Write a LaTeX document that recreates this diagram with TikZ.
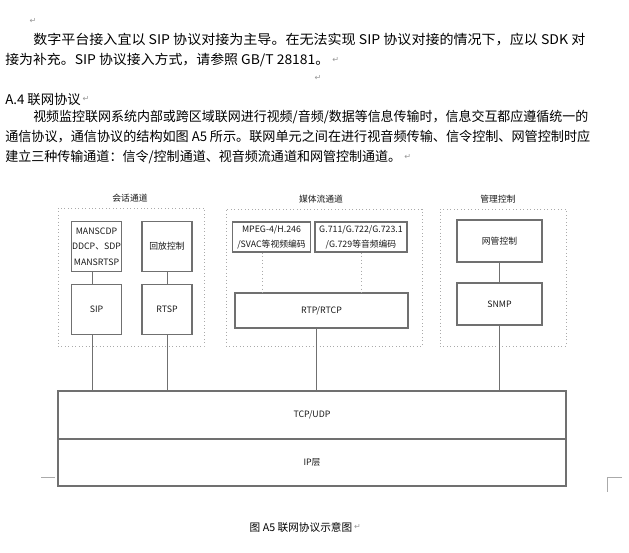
\documentclass[tikz,border=0pt]{standalone}
\usepackage{fontspec}
\usepackage{graphicx}
\setmainfont{Noto Sans CJK SC}
\newfontfamily\symfont{DejaVu Sans}
\usetikzlibrary{positioning}
\definecolor{boxgray}{RGB}{112,112,112}
\definecolor{dotgray}{RGB}{170,170,170}
\definecolor{retgray}{RGB}{150,150,150}
\newcommand\fitline[2]{\resizebox{#1}{\height}{#2}}

\begin{document}
\begin{tikzpicture}[x=0.75pt,y=0.75pt,yscale=-1,xscale=1,
  chbox/.style={draw=boxgray, line width=0.8pt, inner sep=0pt, align=center, text=black!90, font=\fontsize{6.6}{11.5}\selectfont},
  chgroup/.style={draw=dotgray, dotted, line width=0.6pt, inner sep=0pt},
  chtitle/.style={inner sep=0pt, text=black!90, font=\fontsize{6.6}{8}\selectfont},
  bodyline/.style={anchor=west, inner sep=0pt, font=\fontsize{10}{12}\selectfont},
  retmark/.style={inner sep=0pt, text=retgray, font=\symfont\fontsize{6}{7}\selectfont},
  wire/.style={draw=boxgray, line width=0.6pt},
  dotwire/.style={draw=dotgray, dotted, line width=0.7pt},
  cornermark/.style={draw=dotgray, line width=0.6pt}]
\useasboundingbox (0,0) rectangle (629,553);

% Text Node
\node [retmark] (r0) at (33,21) {↵};
\node [bodyline] (l1) at (33,40) {\fitline{414pt}{数字平台接入宜以 SIP 协议对接为主导。在无法实现 SIP 协议对接的情况下，应以 SDK 对}};
\node [bodyline] (l2) at (5,60) {\fitline{243pt}{接为补充。SIP 协议接入方式，请参照 GB/T 28181。}};
\node [retmark, right=2pt of l2] (r2) {↵};
\node [retmark] (r3) at (318,78) {↵};
% Text Node
\node [bodyline] (head) at (5,99) {A.4 联网协议};
\node [retmark, right=1pt of head] (r4) {↵};
% Text Node
\node [bodyline] (p1) at (33,117) {\fitline{416.25pt}{视频监控联网系统内部或跨区域联网进行视频/音频/数据等信息传输时，信息交互都应遵循统一的}};
\node [bodyline] (p2) at (5,137) {\fitline{438.75pt}{通信协议，通信协议的结构如图 A5 所示。联网单元之间在进行视音频传输、信令控制、网管控制时应}};
\node [bodyline] (p3) at (5,157) {\fitline{297pt}{建立三种传输通道：信令/控制通道、视音频流通道和网管控制通道。}};
\node [retmark, right=2pt of p3] (r5) {↵};

%Shape: Rectangle (dotted groups)
\node [chgroup, minimum width=109.5pt, minimum height=103.5pt] (sess) at (131,277) {};
\node [chgroup, minimum width=147pt, minimum height=102.75pt] (media) at (324,277.5) {};
\node [chgroup, minimum width=94.5pt, minimum height=102.75pt] (mgmt) at (503,277.5) {};
% Text Node
\node [chtitle] (sesst) at (130,198) {会话通道};
\node [chtitle] (mediat) at (321,199) {媒体流通道};
\node [chtitle] (mgmtt) at (498,199) {管理控制};

%Shape: Rectangle
\node [chbox, minimum width=37pt, minimum height=37pt] (mans) at (96.5,246.5) {MANSCDP\\DDCP、SDP\\MANSRTSP};
\node [chbox, minimum width=37.5pt, minimum height=37pt] (replay) at (167,246.5) {回放控制};
\node [chbox, minimum width=37pt, minimum height=37pt] (sip) at (96.5,309.5) {SIP};
\node [chbox, minimum width=37.5pt, minimum height=37pt] (rtsp) at (167,309.5) {RTSP};
\node [chbox, minimum width=58.5pt, minimum height=22.5pt] (mpeg) at (271.5,237) {MPEG-4/H.246\\/SVAC等视频编码};
\node [chbox, minimum width=69pt, minimum height=22.5pt] (g711) at (361,237) {G.711/G.722/G.723.1\\/G.729等音频编码};
\node [chbox, minimum width=129.75pt, minimum height=26.25pt] (rtp) at (321.5,310.5) {RTP/RTCP};
\node [chbox, minimum width=63.75pt, minimum height=31.5pt] (nm) at (499.5,241) {网管控制};
\node [chbox, minimum width=63.75pt, minimum height=31.5pt] (snmp) at (499.5,304) {SNMP};
\node [chbox, line width=1pt, minimum width=381pt, minimum height=36pt] (tcp) at (312,415) {TCP/UDP};
\node [chbox, line width=1pt, minimum width=381pt, minimum height=35.25pt] (ip) at (312,462.5) {IP层};

%Straight Lines
\draw [wire] ([xshift=-3.4pt]mans.south) -- ([xshift=-3.4pt]sip.north);
\draw [wire] (replay) -- (rtsp);
\draw [wire] ([xshift=-3.4pt]sip.south) -- ([xshift=-3.4pt]sip.south |- tcp.north);
\draw [wire] (rtsp.south) -- (rtsp.south |- tcp.north);
\draw [dotwire] ([xshift=-7.1pt]mpeg.south) -- ([xshift=-7.1pt]mpeg.south |- rtp.north);
\draw [dotwire] (g711.south) -- (g711.south |- rtp.north);
\draw [wire] ([xshift=-4.1pt]rtp.south) -- ([xshift=-4.1pt]rtp.south |- tcp.north);
\draw [wire] (nm) -- (snmp);
\draw [wire] (snmp.south) -- (snmp.south |- tcp.north);

%Straight Lines (page corner marks)
\draw [cornermark] (41,477) -- (55,477);
\draw [cornermark] (622,477) -- (607,477) -- (607,492);

% Text Node
\node [inner sep=0pt, font=\fontsize{8}{9}\selectfont] (cap) at (301,527) {图 A5 联网协议示意图};
\node [retmark, right=1pt of cap] (r6) {↵};

\end{tikzpicture}
\end{document}
